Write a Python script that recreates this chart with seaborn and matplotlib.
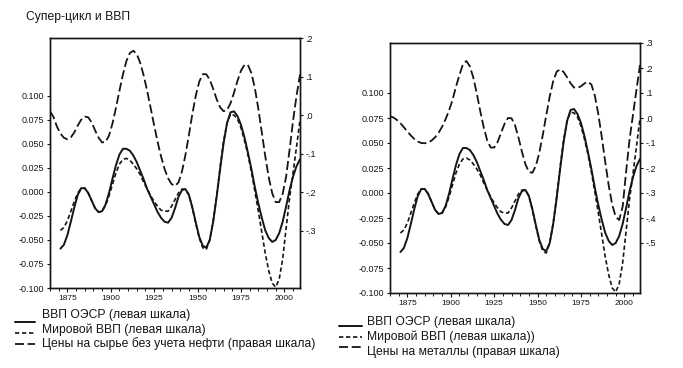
import matplotlib
matplotlib.use('Agg')
import matplotlib.pyplot as plt
from matplotlib.lines import Line2D
from matplotlib.ticker import MultipleLocator, FixedLocator, FixedFormatter
import seaborn as sns

sns.set_style('ticks')
plt.rcParams['font.family'] = ['Liberation Sans', 'DejaVu Sans']

# --- data (smoothed cycle components) ---
years_gdp = list(range(1871, 2010, 2))
years_px = list(range(1865, 2010, 2))

oecd_gdp = [
    -0.059, -0.055, -0.045, -0.031, -0.016, -0.003, 0.004, 0.004, -0.001, -0.009,
    -0.017, -0.021, -0.020, -0.013, -0.001, 0.014, 0.028, 0.039, 0.045, 0.045,
    0.043, 0.038, 0.031, 0.022, 0.013, 0.003, -0.005, -0.013, -0.021, -0.027,
    -0.031, -0.032, -0.027, -0.017, -0.005, 0.002, 0.003, -0.003, -0.016, -0.032,
    -0.047, -0.056, -0.058, -0.050, -0.031, -0.005, 0.024, 0.051, 0.072, 0.083,
    0.084, 0.079, 0.070, 0.057, 0.041, 0.024, 0.005, -0.012, -0.027, -0.040,
    -0.048, -0.052, -0.050, -0.043, -0.031, -0.015, 0.002, 0.016, 0.027, 0.034,
]
world_gdp = [
    -0.040, -0.037, -0.030, -0.020, -0.010, -0.001, 0.004, 0.004, -0.001, -0.009,
    -0.017, -0.021, -0.020, -0.014, -0.004, 0.008, 0.020, 0.029, 0.034, 0.035,
    0.033, 0.029, 0.024, 0.018, 0.010, 0.003, -0.004, -0.010, -0.015, -0.019,
    -0.020, -0.020, -0.015, -0.008, -0.001, 0.003, 0.003, -0.003, -0.017, -0.033,
    -0.048, -0.058, -0.060, -0.050, -0.030, -0.004, 0.026, 0.053, 0.072, 0.081,
    0.080, 0.076, 0.067, 0.054, 0.039, 0.021, 0.001, -0.020, -0.042, -0.064,
    -0.082, -0.095, -0.099, -0.091, -0.070, -0.038, -0.006, 0.020, 0.047, 0.075,
]
commod_ex_oil = [
    0.010, -0.005, -0.030, -0.048, -0.059, -0.063, -0.058, -0.045, -0.027, -0.012,
    -0.004, -0.006, -0.019, -0.040, -0.059, -0.071, -0.070, -0.053, -0.022, 0.019,
    0.063, 0.105, 0.140, 0.161, 0.167, 0.158, 0.135, 0.102, 0.062, 0.018,
    -0.027, -0.070, -0.108, -0.140, -0.164, -0.179, -0.184, -0.175, -0.147, -0.104,
    -0.052, 0.003, 0.051, 0.087, 0.106, 0.106, 0.092, 0.068, 0.041, 0.020,
    0.010, 0.013, 0.031, 0.058, 0.089, 0.115, 0.130, 0.130, 0.109, 0.070,
    0.016, -0.045, -0.107, -0.162, -0.203, -0.226, -0.226, -0.205, -0.160, -0.090,
    -0.015, 0.050, 0.105,
]
metals = [
    0.007, 0.002, -0.008, -0.021, -0.037, -0.054, -0.070, -0.084, -0.094, -0.100,
    -0.101, -0.098, -0.090, -0.077, -0.059, -0.035, -0.005, 0.030, 0.072, 0.125,
    0.172, 0.215, 0.228, 0.207, 0.161, 0.098, 0.027, -0.038, -0.090, -0.118,
    -0.118, -0.096, -0.059, -0.023, 0.000, -0.001, -0.029, -0.078, -0.135, -0.185,
    -0.216, -0.219, -0.192, -0.139, -0.068, 0.011, 0.086, 0.147, 0.185, 0.195,
    0.184, 0.163, 0.139, 0.122, 0.120, 0.127, 0.138, 0.145, 0.134, 0.089,
    0.015, -0.077, -0.177, -0.271, -0.347, -0.395, -0.408, -0.355, -0.215, -0.085,
    0.015, 0.115, 0.212,
]

left_ticks = [0.100, 0.075, 0.050, 0.025, 0.000, -0.025, -0.050, -0.075, -0.100]
left_labels = ['0.100', '0.075', '0.050', '0.025', '0.000', '-0.025', '-0.050', '-0.075', '-0.100']
right_ticks_a = [0.2, 0.1, 0.0, -0.1, -0.2, -0.3]
right_labels_a = ['.2', '.1', '.0', '-.1', '-.2', '-.3']
right_ticks_b = [0.3, 0.2, 0.1, 0.0, -0.1, -0.2, -0.3, -0.4, -0.5]
right_labels_b = ['.3', '.2', '.1', '.0', '-.1', '-.2', '-.3', '-.4', '-.5']

title = 'Супер-цикл и ВВП'
legend_a = ['ВВП ОЭСР (левая шкала)', 'Мировой ВВП (левая шкала)',
            'Цены на сырье без учета нефти (правая шкала)']
legend_b = ['ВВП ОЭСР (левая шкала)', 'Мировой ВВП (левая шкала))',
            'Цены на металлы (правая шкала)']

INK = '#151515'
SOLID = dict(color=INK, lw=1.4, linestyle='-')
SHORT = dict(color=INK, lw=1.2, linestyle=(0, (2.6, 1.6)))
LONG = dict(color=INK, lw=1.3, linestyle=(0, (5.0, 2.0)))

W, H = 683, 368
fig = plt.figure(figsize=(W / 100, H / 100), dpi=100)


def px_rect(x0, y0, x1, y1):
    return [x0 / W, 1 - y1 / H, (x1 - x0) / W, (y1 - y0) / H]


def draw_panel(rect, right_series, left_lim, right_lim, rticks, rlabels):
    ax = fig.add_axes(rect)
    ax2 = ax.twinx()
    sns.lineplot(x=years_gdp, y=oecd_gdp, ax=ax, errorbar=None, **SOLID)
    sns.lineplot(x=years_gdp, y=world_gdp, ax=ax, errorbar=None, **SHORT)
    sns.lineplot(x=years_px, y=right_series, ax=ax2, errorbar=None, **LONG)

    ax.set_xlim(1865, 2009)
    ax.set_ylim(*left_lim)
    ax2.set_ylim(*right_lim)
    ax.xaxis.set_major_locator(MultipleLocator(25))
    ax.xaxis.set_minor_locator(MultipleLocator(5))
    ax.yaxis.set_major_locator(FixedLocator(left_ticks))
    ax.yaxis.set_major_formatter(FixedFormatter(left_labels))
    ax2.yaxis.set_major_locator(FixedLocator(rticks))
    ax2.yaxis.set_major_formatter(FixedFormatter(rlabels))

    ax.tick_params(axis='y', direction='out', length=2.5, width=0.8, pad=1.5,
                   labelsize=6.5, colors=INK)
    ax.tick_params(axis='x', which='major', direction='out', length=3, width=0.8,
                   pad=2, labelsize=6, colors=INK)
    ax.tick_params(axis='x', which='minor', direction='out', length=2.2, width=0.7,
                   colors=INK)
    ax2.tick_params(axis='y', direction='out', length=2.5, width=0.8, pad=1.5,
                    labelsize=6.5, colors=INK)
    for a in (ax, ax2):
        a.set_xlabel('')
        a.set_ylabel('')
        for sp in a.spines.values():
            sp.set_visible(True)
            sp.set_linewidth(1.0)
            sp.set_color(INK)
    return ax, ax2


draw_panel(px_rect(50, 38, 300, 288), commod_ex_oil,
           (-0.1, 0.1604), (-0.449, 0.2), right_ticks_a, right_labels_a)
draw_panel(px_rect(390, 43, 640, 293), metals,
           (-0.1, 0.15), (-0.7, 0.3), right_ticks_b, right_labels_b)

fig.text(26 / W, 1 - 17 / H, title, fontsize=8.7, va='center', ha='left', color=INK)


def legend_rows(x0, x1, xt, rows, labels):
    styles = [SOLID, SHORT, LONG]
    for (yl, yt), lab, st in zip(rows, labels, styles):
        fig.add_artist(Line2D([x0 / W, x1 / W], [1 - yl / H, 1 - yl / H],
                              transform=fig.transFigure, **st))
        fig.text(xt / W, 1 - yt / H, lab, fontsize=8.7, va='center', ha='left',
                 color=INK)


legend_rows(15, 35, 42, [(322, 315), (333, 330), (344, 344)], legend_a)
legend_rows(339, 362, 367, [(325.5, 321.5), (336.5, 337), (346.5, 351.5)], legend_b)

fig.savefig('out.png', dpi=100)
